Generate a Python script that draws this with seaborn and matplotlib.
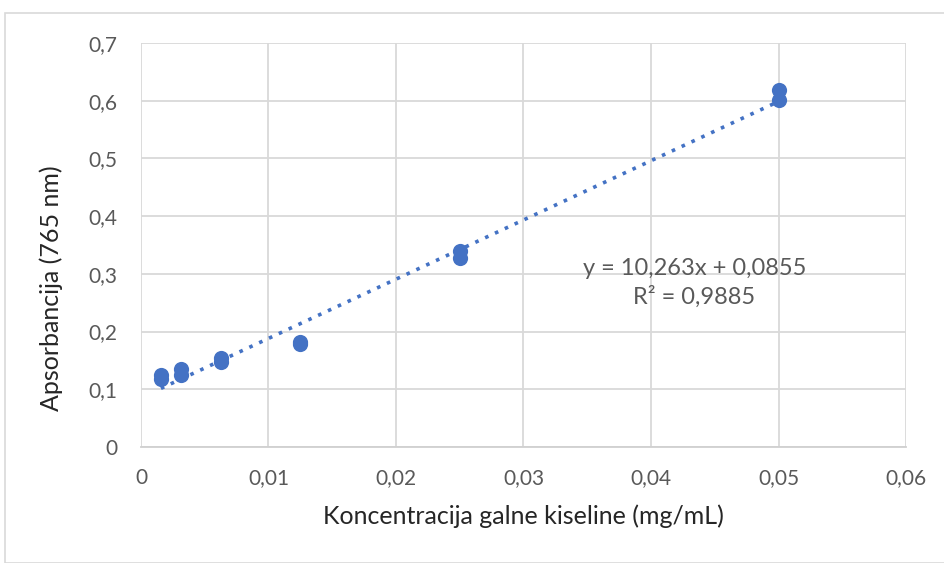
import numpy as np
import pandas as pd
import matplotlib
matplotlib.use("Agg")
import matplotlib.pyplot as plt
import seaborn as sns
from matplotlib.ticker import FuncFormatter
from matplotlib.patches import Rectangle

# podaci (očitano sa slike)
koncentracija = [0.0015625, 0.0015625, 0.003125, 0.003125, 0.00625, 0.00625,
                 0.0125, 0.0125, 0.025, 0.025, 0.05, 0.05]
apsorbancija = [0.118, 0.124, 0.125, 0.135, 0.147, 0.155,
                0.179, 0.182, 0.327, 0.340, 0.601, 0.619]
nagib = 10.263
odsjecak = 0.0855
r2 = 0.9885

df = pd.DataFrame({"x": koncentracija, "y": apsorbancija})

sns.set_style("white")
plt.rcParams["font.family"] = ["Lato", "DejaVu Sans"]

fig = plt.figure(figsize=(9.45, 5.63), dpi=100)
ax = fig.add_axes([141 / 945, 1 - 447 / 563, (906 - 141) / 945, (447 - 43) / 563])

# okvir grafikona
fig.patches.append(Rectangle((5 / 945, 0), 1.2, 1 - 13 / 563, transform=fig.transFigure,
                             fill=False, edgecolor="#D9D9D9", linewidth=1.2))

plava = "#4472C4"

# linija trenda
xl = np.array([min(koncentracija), max(koncentracija)])
trend = pd.DataFrame({"x": xl, "y": nagib * xl + odsjecak})
sns.lineplot(data=trend, x="x", y="y", ax=ax, color=plava, linestyle=(0, (1, 2.0)),
             linewidth=2.6, zorder=2)

sns.scatterplot(data=df, x="x", y="y", ax=ax, color=plava, s=120, edgecolor=plava,
                linewidth=0, zorder=3)

ax.set_xlim(0, 0.06)
ax.set_ylim(0, 0.7)
ax.set_xticks(np.arange(0, 0.061, 0.01))
ax.set_yticks(np.arange(0, 0.71, 0.1))

ax.xaxis.set_major_formatter(FuncFormatter(lambda v, p: "0" if abs(v) < 1e-9 else f"{v:.2f}".replace(".", ",")))
ax.yaxis.set_major_formatter(FuncFormatter(lambda v, p: "0" if abs(v) < 1e-9 else f"{v:.1f}".replace(".", ",")))

ax.grid(True, color="#D9D9D9", linewidth=1.3)
ax.set_axisbelow(True)
for s in ["top", "right", "left"]:
    ax.spines[s].set_visible(False)
ax.spines["bottom"].set_color("#D0D0D0")
ax.spines["bottom"].set_linewidth(1.3)

ax.tick_params(axis="both", length=0, labelsize=15, colors="#595959")
ax.tick_params(axis="x", pad=15)
ax.tick_params(axis="y", pad=17)

ax.set_xlabel("Koncentracija galne kiseline (mg/mL)", fontsize=18, color="#262626", labelpad=12)
ax.set_ylabel("Apsorbancija (765 nm)", fontsize=18, color="#262626")
ax.yaxis.set_label_coords(-0.102, 0.394)

ax.text(0.0434, 0.310, f"y = {nagib:.3f}x + {odsjecak:.4f}".replace(".", ","),
        ha="center", va="center", fontsize=17, color="#595959")
ax.text(0.0434, 0.260, f"R² = {r2:.4f}".replace(".", ","),
        ha="center", va="center", fontsize=17, color="#595959")

fig.savefig("out.png", dpi=100)
